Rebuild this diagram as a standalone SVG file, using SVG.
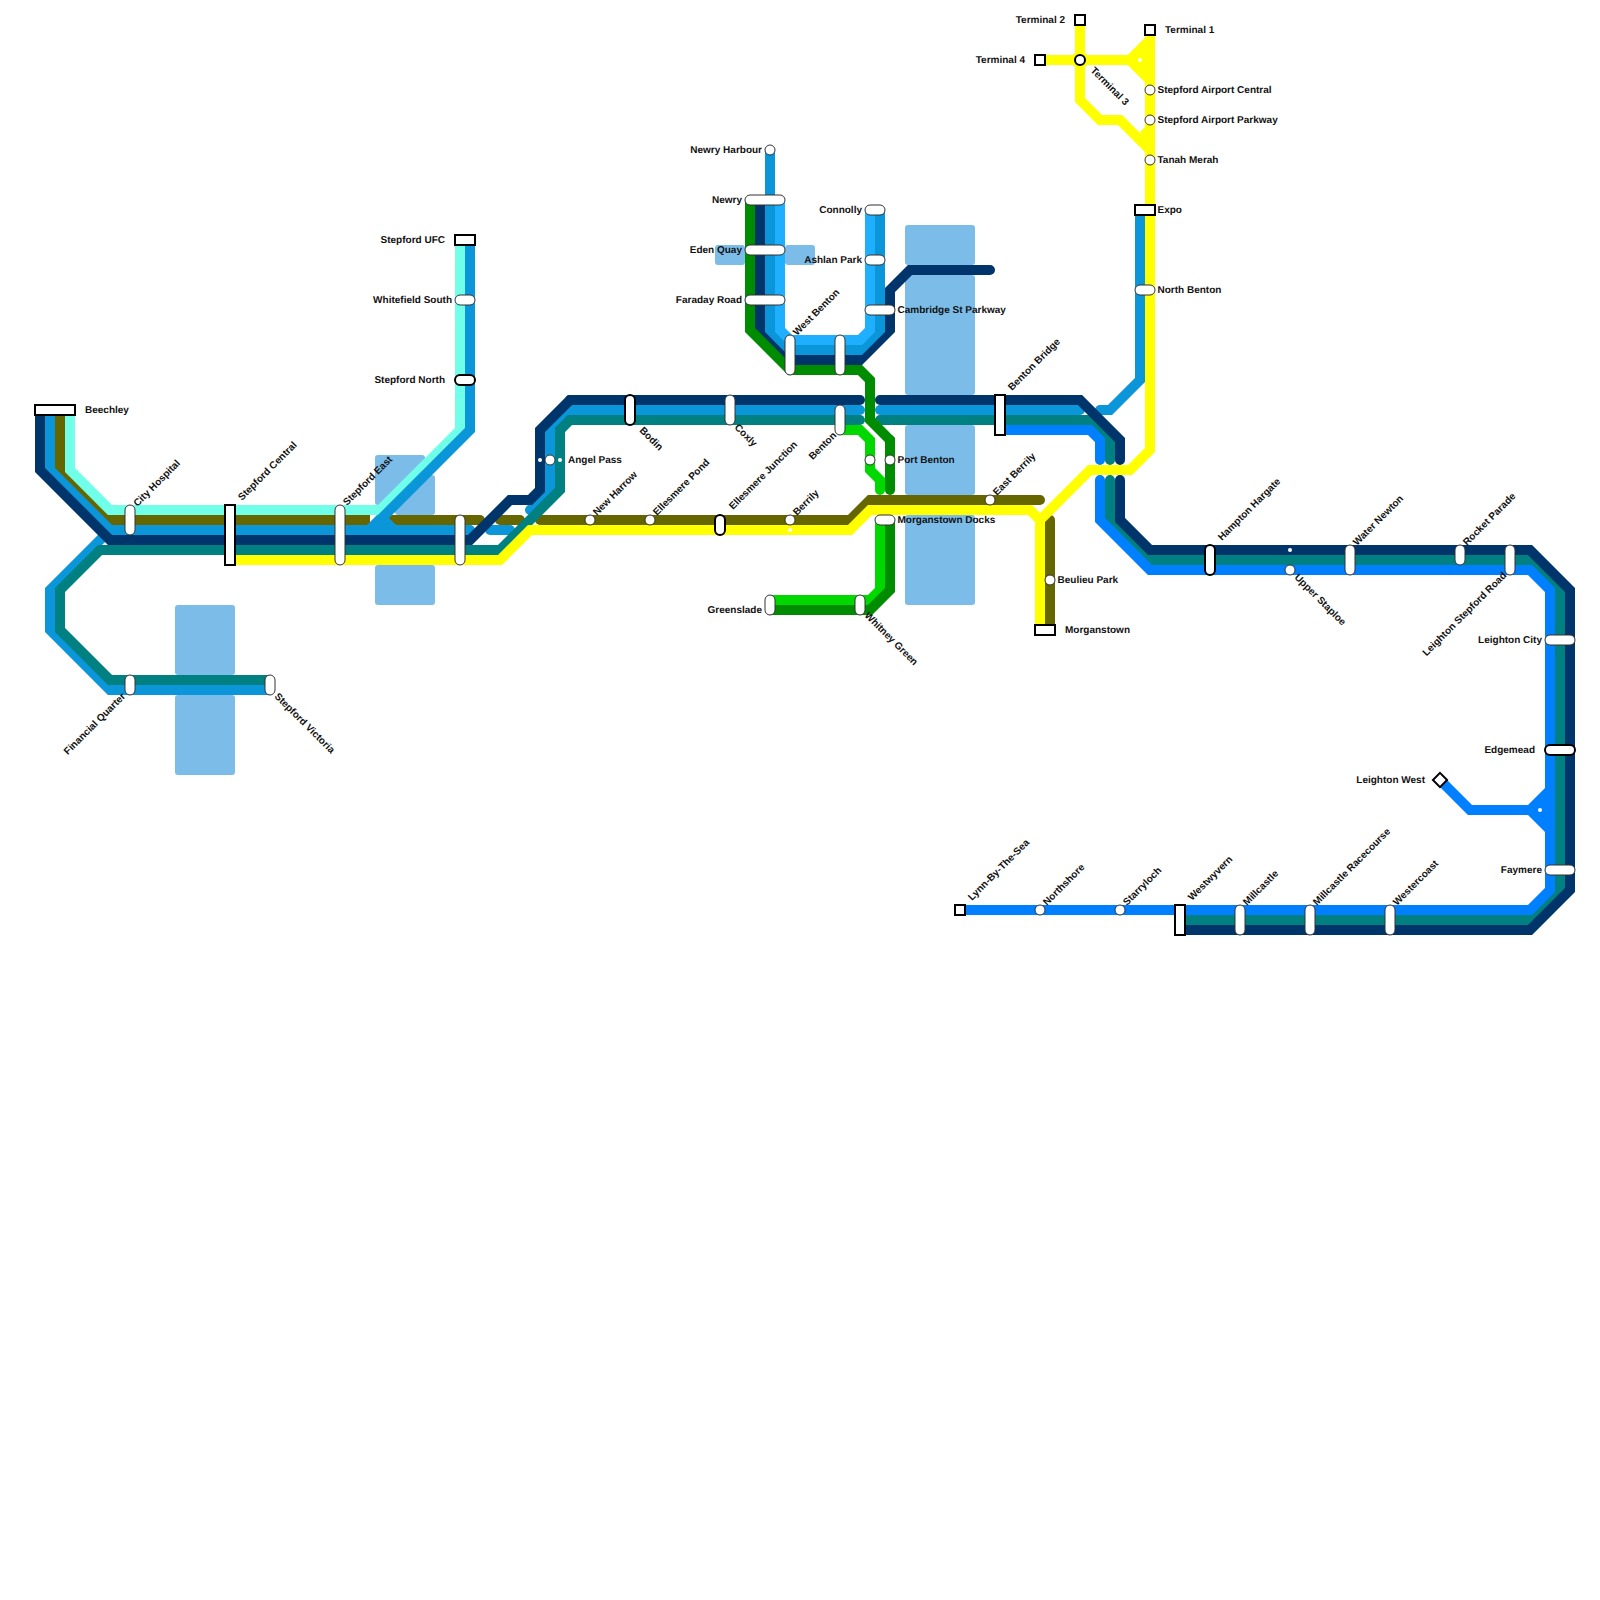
<svg xmlns="http://www.w3.org/2000/svg" width="1600" height="1600" viewBox="0 0 1600 1600">
<style>
text{font-family:"Liberation Sans",Arial,sans-serif;font-size:10px;font-weight:700;fill:#111;text-rendering:geometricPrecision}
.e{text-anchor:end}
.w{fill:#7bbce8}
.l{fill:none;stroke-width:10;stroke-linejoin:miter;stroke-linecap:butt}
.r{stroke-linecap:round}
.navy{stroke:#00356b}.blue{stroke:#0a96d8}.teal{stroke:#008080}.olive{stroke:#666600}.cyan{stroke:#70ffe8}.yellow{stroke:#ffff00}.bright{stroke:#0080ff}.sky{stroke:#1eb0ff}.green{stroke:#008c00}.lime{stroke:#00d800}
.p{fill:#fff;stroke:#333;stroke-width:1}
.b{fill:#fff;stroke:#000;stroke-width:2}
.d{fill:#fff}
</style>
<g id="water">
<rect class="w" x="175" y="605" width="60" height="70" rx="3"/>
<rect class="w" x="175" y="695" width="60" height="80" rx="3"/>
<rect class="w" x="375" y="455" width="50" height="50" rx="3"/>
<rect class="w" x="395" y="475" width="40" height="40" rx="3"/>
<rect class="w" x="375" y="565" width="60" height="40" rx="3"/>
<rect class="w" x="715" y="245" width="30" height="20" rx="3"/>
<rect class="w" x="785" y="245" width="30" height="20" rx="3"/>
<rect class="w" x="905" y="225" width="70" height="40" rx="3"/>
<rect class="w" x="905" y="275" width="70" height="120" rx="3"/>
<rect class="w" x="905" y="425" width="70" height="70" rx="3"/>
<rect class="w" x="905" y="515" width="70" height="90" rx="3"/>
</g>
<g id="connectors">
<path class="l olive r" d="M540 520H850L870 500H1040"/>
<path class="l olive r" d="M1050 520V630"/>
<path class="l olive r" d="M500 520H520"/>
<path class="l olive r" d="M390 520H480"/>
<path class="l olive" d="M60 410V470L110 520H370"/>
<path class="l cyan" d="M70 410V470L110 510H380L460 430V240"/>
<path class="l blue r" d="M470 530H110"/>
<path class="l blue" d="M50 410V470L110 530L50 590V630L110 690H270"/>
<path class="l blue" d="M470 240V430L370 530"/>
<polygon points="367,525 377,515 386,515 396,525" fill="#0a96d8"/>
<path class="l blue r" d="M490 530H510"/>
<path class="l blue r" d="M530 510L550 490V430L570 410H860"/>
<path class="l blue r" d="M880 410H1080"/>
<path class="l blue r" d="M1100 410H1110L1140 380V210"/>
<path class="l teal" d="M110 550H100L60 590V630L110 680H270"/>
<path class="l teal" d="M100 550H500L560 490V430L570 420H860"/>
<path class="l teal r" d="M860 420H570"/>
<path class="l teal r" d="M880 420H1090L1110 440V460"/>
<path class="l teal r" d="M1110 480V520L1150 560H1530L1560 590V890L1530 920H1180"/>
<path class="l bright r" d="M1000 430H1090L1100 440V460"/>
<path class="l bright r" d="M1100 480V520L1150 570H1530L1550 590V890L1530 910H960"/>
<path class="l bright" d="M1440 780L1470 810H1530"/>
<polygon points="1528,805 1545,788 1555,788 1555,832 1545,832 1528,815" fill="#0080ff"/>
<path class="l navy" d="M40 410V470L110 540H470L510 500H530L540 490V430L570 400H860"/>
<path class="l navy r" d="M860 400H570"/>
<path class="l navy r" d="M880 400H1080L1120 440V460"/>
<path class="l navy r" d="M1120 480V520L1150 550H1530L1570 590V890L1530 930H1180"/>
<path class="l navy r" d="M990 270H910L890 290V330L860 360H790L760 330V200"/>
<path class="l blue" d="M770 150V330L790 350H860L880 330V210"/>
<path class="l sky" d="M780 200V330L790 340H860L870 330V210"/>
<path class="l green" d="M750 200V330L790 370H860L870 380V420L890 440V480"/>
<path class="l green r" d="M890 440V490"/>
<path class="l lime r" d="M840 430H860L870 440V470L880 480V490"/>
<path class="l lime" d="M880 520V590L870 600H770"/>
<path class="l green" d="M890 520V590L870 610H770"/>
<path class="l yellow" d="M230 560H500L530 530H850L870 510H1030L1040 520V630"/>
<path class="l yellow" d="M1040 520L1090 470H1130L1150 450V30"/>
<path class="l yellow" d="M1040 60H1130L1150 80"/>
<path class="l yellow" d="M1130 60L1150 40"/>
<polygon points="1127,56 1147,36 1150,60 1147,84 1127,64" fill="#ffff00"/>
<polygon points="1068,60 1080,48 1092,60 1080,72" fill="#ffff00"/>
<path class="l yellow" d="M1080 20V100L1100 120H1120L1150 150"/>
<polygon points="1146,126 1140,132 1146,140" fill="#ffff00"/>
</g>
<g id="beechley"><rect class="b" x="35" y="405" width="40" height="10"/><text x="85" y="412.5">Beechley</text></g>
<g id="city-hospital"><rect class="p" x="125" y="505" width="10" height="30" rx="5"/><text transform="translate(137.5 507) rotate(-45)">City Hospital</text></g>
<g id="stepford-central"><rect class="b" x="225" y="505" width="10" height="60"/><text transform="translate(242 501) rotate(-45)">Stepford Central</text></g>
<g id="stepford-east"><rect class="p" x="335" y="505" width="10" height="60" rx="5"/><text transform="translate(347 506) rotate(-45)">Stepford East</text></g>
<g id="junction-460"><rect class="p" x="455" y="515" width="10" height="50" rx="5"/></g>
<g id="stepford-ufc"><rect class="b" x="455" y="235" width="20" height="10"/><text class="e" x="445" y="242.5">Stepford UFC</text></g>
<g id="whitefield-south"><rect class="p" x="455" y="295" width="20" height="10" rx="5"/><text class="e" x="452" y="302.5">Whitefield South</text></g>
<g id="stepford-north"><rect class="b" x="455" y="375" width="20" height="10" rx="5"/><text class="e" x="445" y="382.5">Stepford North</text></g>
<g id="financial-quarter"><rect class="p" x="125" y="675" width="10" height="20" rx="5"/><text class="e" transform="translate(126 697) rotate(-45)">Financial Quarter</text></g>
<g id="stepford-victoria"><rect class="p" x="265" y="675" width="10" height="20" rx="5"/><text transform="translate(274 697) rotate(45)">Stepford Victoria</text></g>
<g id="angel-pass"><circle class="d" cx="540" cy="460" r="2"/><circle class="d" cx="560" cy="460" r="2"/><circle class="p" cx="550" cy="460" r="5"/><text x="568" y="462.5">Angel Pass</text></g>
<g id="bodin"><rect class="b" x="625" y="395" width="10" height="30" rx="5"/><text transform="translate(639 431) rotate(45)">Bodin</text></g>
<g id="coxly"><rect class="p" x="725" y="395" width="10" height="30" rx="5"/><text transform="translate(734 428) rotate(45)">Coxly</text></g>
<g id="benton"><rect class="p" x="835" y="405" width="10" height="30" rx="5"/><text class="e" transform="translate(837 436) rotate(-45)">Benton</text></g>
<g id="new-harrow"><circle class="p" cx="590" cy="520" r="5"/><text transform="translate(597 516) rotate(-45)">New Harrow</text></g>
<g id="ellesmere-pond"><circle class="p" cx="650" cy="520" r="5"/><text transform="translate(657 516) rotate(-45)">Ellesmere Pond</text></g>
<g id="ellesmere-junction"><rect class="b" x="715" y="515" width="10" height="20" rx="5"/><text transform="translate(733 510) rotate(-45)">Ellesmere Junction</text></g>
<g id="berrily"><circle class="d" cx="790" cy="530" r="2"/><circle class="p" cx="790" cy="520" r="5"/><text transform="translate(797 516) rotate(-45)">Berrily</text></g>
<g id="newry-harbour"><circle class="p" cx="770" cy="150" r="5"/><text class="e" x="762" y="152.5">Newry Harbour</text></g>
<g id="newry"><rect class="p" x="745" y="195" width="40" height="10" rx="5"/><text class="e" x="742" y="202.5">Newry</text></g>
<g id="eden-quay"><rect class="p" x="745" y="245" width="40" height="10" rx="5"/><text class="e" x="742" y="252.5">Eden Quay</text></g>
<g id="faraday-road"><rect class="p" x="745" y="295" width="40" height="10" rx="5"/><text class="e" x="742" y="302.5">Faraday Road</text></g>
<g id="west-benton"><rect class="p" x="785" y="335" width="10" height="40" rx="5"/><text transform="translate(797 336) rotate(-45)">West Benton</text></g>
<g id="junction-840"><rect class="p" x="835" y="335" width="10" height="40" rx="5"/></g>
<g id="connolly"><rect class="p" x="865" y="205" width="20" height="10" rx="5"/><text class="e" x="862" y="212.5">Connolly</text></g>
<g id="ashlan-park"><rect class="p" x="865" y="255" width="20" height="10" rx="5"/><text class="e" x="862" y="262.5">Ashlan Park</text></g>
<g id="cambridge-st-parkway"><rect class="p" x="865" y="305" width="30" height="10" rx="5"/><text x="897.5" y="312.5">Cambridge St Parkway</text></g>
<g id="port-benton"><circle class="p" cx="870" cy="460" r="5"/><circle class="p" cx="890" cy="460" r="5"/><text x="897.5" y="462.5">Port Benton</text></g>
<g id="morganstown-docks"><rect class="p" x="875" y="515" width="20" height="10" rx="5"/><text x="897.5" y="522.5">Morganstown Docks</text></g>
<g id="greenslade"><rect class="p" x="765" y="595" width="10" height="20" rx="5"/><text class="e" x="762" y="612.5">Greenslade</text></g>
<g id="whitney-green"><rect class="p" x="855" y="595" width="10" height="20" rx="5"/><text transform="translate(864 616) rotate(45)">Whitney Green</text></g>
<g id="east-berrily"><circle class="p" cx="990" cy="500" r="5"/><text transform="translate(997 496) rotate(-45)">East Berrily</text></g>
<g id="benton-bridge"><rect class="b" x="995" y="395" width="10" height="40"/><text transform="translate(1012 391) rotate(-45)">Benton Bridge</text></g>
<g id="beulieu-park"><circle class="p" cx="1050" cy="580" r="5"/><text x="1057.5" y="582.5">Beulieu Park</text></g>
<g id="morganstown"><rect class="b" x="1035" y="625" width="20" height="10"/><text x="1065" y="632.5">Morganstown</text></g>
<g id="terminal-2"><rect class="b" x="1075" y="15" width="10" height="10"/><text class="e" x="1065" y="22.5">Terminal 2</text></g>
<g id="terminal-1"><rect class="b" x="1145" y="25" width="10" height="10"/><text x="1165" y="32.5">Terminal 1</text></g>
<g id="terminal-4"><rect class="b" x="1035" y="55" width="10" height="10"/><text class="e" x="1025" y="62.5">Terminal 4</text></g>
<g id="terminal-3"><circle class="b" cx="1080" cy="60" r="5"/><text transform="translate(1090 71) rotate(45)">Terminal 3</text></g>
<circle class="d" cx="1140" cy="60" r="2"/>
<g id="stepford-airport-central"><circle class="p" cx="1150" cy="90" r="5"/><text x="1157.5" y="92.5">Stepford Airport Central</text></g>
<g id="stepford-airport-parkway"><circle class="p" cx="1150" cy="120" r="5"/><text x="1157.5" y="122.5">Stepford Airport Parkway</text></g>
<g id="tanah-merah"><circle class="p" cx="1150" cy="160" r="5"/><text x="1157.5" y="162.5">Tanah Merah</text></g>
<g id="expo"><rect class="b" x="1135" y="205" width="20" height="10"/><text x="1157.5" y="212.5">Expo</text></g>
<g id="north-benton"><rect class="p" x="1135" y="285" width="20" height="10" rx="5"/><text x="1157.5" y="292.5">North Benton</text></g>
<g id="hampton-hargate"><rect class="b" x="1205" y="545" width="10" height="30" rx="5"/><text transform="translate(1222 541) rotate(-45)">Hampton Hargate</text></g>
<g id="upper-staploe"><circle class="d" cx="1290" cy="550" r="2"/><circle class="p" cx="1290" cy="570" r="5"/><text transform="translate(1294 578) rotate(45)">Upper Staploe</text></g>
<g id="water-newton"><rect class="p" x="1345" y="545" width="10" height="30" rx="5"/><text transform="translate(1357 546) rotate(-45)">Water Newton</text></g>
<g id="rocket-parade"><rect class="p" x="1455" y="545" width="10" height="20" rx="5"/><text transform="translate(1467 546) rotate(-45)">Rocket Parade</text></g>
<g id="leighton-stepford-road"><rect class="p" x="1505" y="545" width="10" height="30" rx="5"/><text class="e" transform="translate(1507 576) rotate(-45)">Leighton Stepford Road</text></g>
<g id="leighton-city"><rect class="p" x="1545" y="635" width="30" height="10" rx="5"/><text class="e" x="1542" y="642.5">Leighton City</text></g>
<g id="edgemead"><rect class="b" x="1545" y="745" width="30" height="10" rx="5"/><text class="e" x="1535" y="752.5">Edgemead</text></g>
<g id="leighton-west"><rect class="b" x="1435" y="775" width="10" height="10" transform="rotate(45 1440 780)"/><text class="e" x="1425" y="782.5">Leighton West</text></g>
<circle class="d" cx="1540" cy="810" r="2"/>
<g id="faymere"><rect class="p" x="1545" y="865" width="30" height="10" rx="5"/><text class="e" x="1542" y="872.5">Faymere</text></g>
<g id="lynn-by-the-sea"><rect class="b" x="955" y="905" width="10" height="10"/><text transform="translate(972 901) rotate(-45)">Lynn-By-The-Sea</text></g>
<g id="northshore"><circle class="p" cx="1040" cy="910" r="5"/><text transform="translate(1047 906) rotate(-45)">Northshore</text></g>
<g id="starryloch"><circle class="p" cx="1120" cy="910" r="5"/><text transform="translate(1127 906) rotate(-45)">Starryloch</text></g>
<g id="westwyvern"><rect class="b" x="1175" y="905" width="10" height="30"/><text transform="translate(1192 901) rotate(-45)">Westwyvern</text></g>
<g id="millcastle"><rect class="p" x="1235" y="905" width="10" height="30" rx="5"/><text transform="translate(1247 906) rotate(-45)">Millcastle</text></g>
<g id="millcastle-racecourse"><rect class="p" x="1305" y="905" width="10" height="30" rx="5"/><text transform="translate(1317 906) rotate(-45)">Millcastle Racecourse</text></g>
<g id="westercoast"><rect class="p" x="1385" y="905" width="10" height="30" rx="5"/><text transform="translate(1397 906) rotate(-45)">Westercoast</text></g>
</svg>
